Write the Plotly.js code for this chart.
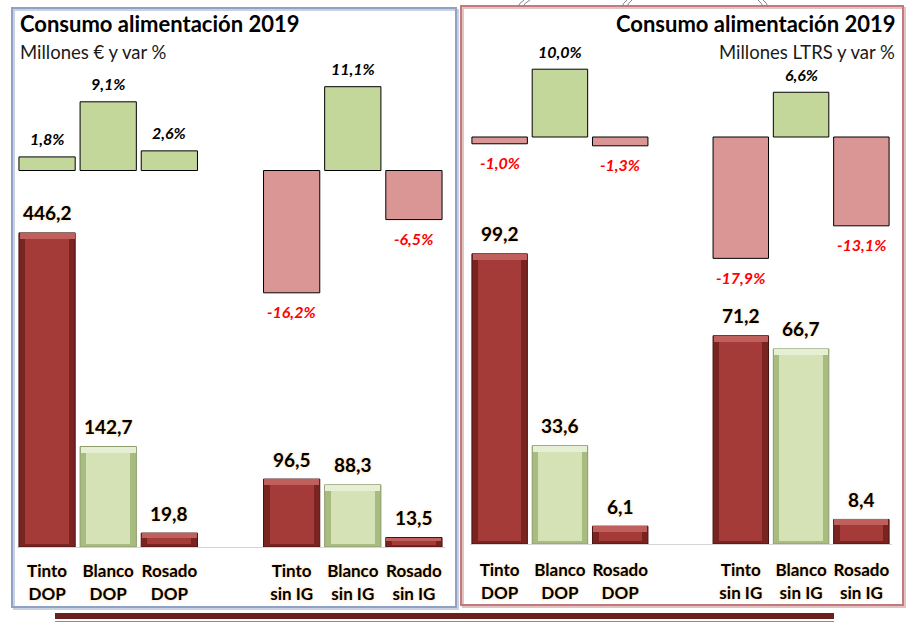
<!DOCTYPE html>
<html>
<head>
<meta charset="utf-8">
<script src="https://cdn.plot.ly/plotly-3.0.1.min.js"></script>
<style>
  html, body { margin: 0; padding: 0; background: #ffffff; }
  #chart { width: 913px; height: 624px; }
</style>
</head>
<body>
<div id="chart"></div>
<script>
// Wine consumption in food retail, 2019: value (left) and volume (right)
const categories = ['Tinto<br>DOP', 'Blanco<br>DOP', 'Rosado<br>DOP', 'Tinto<br>sin IG', 'Blanco<br>sin IG', 'Rosado<br>sin IG'];
const wineType = ['Tinto', 'Blanco', 'Rosado', 'Tinto', 'Blanco', 'Rosado'];

const valorMillonesEur = [446.2, 142.7, 19.8, 96.5, 88.3, 13.5];
const varValorPct = [1.8, 9.1, 2.6, -16.2, 11.1, -6.5];

const volumenMillonesL = [99.2, 33.6, 6.1, 71.2, 66.7, 8.4];
const varVolumenPct = [-1.0, 10.0, -1.3, -17.9, 6.6, -13.1];

const panelTitle = 'Consumo alimentación 2019';
const subtitleValor = 'Millones € y var %';
const subtitleVolumen = 'Millones LTRS y var %';

// ---- page geometry helpers (pixels -> paper) ----
const W = 913, H = 624;
const px = x => x / W;
const py = y => 1 - y / H;

const FONT = 'Lato, "Liberation Sans", Arial, sans-serif';
const GLOW = '0px 0px 3px rgba(255,170,60,0.55)';

// category axis with a blank slot separating DOP and sin IG groups
const SPACER = ' ';
const catOrder = categories.slice(0, 3).concat([SPACER], categories.slice(3));

const fmt = v => v.toFixed(1).replace('.', ',');

// bevelled bar palette
const bevel = {
  Tinto:  { side: '#7a2422', top: '#c0605d', face: '#a53b38', line: '#4a1313' },
  Rosado: { side: '#7a2422', top: '#c0605d', face: '#a53b38', line: '#4a1313' },
  Blanco: { side: '#a9bc80', top: '#e6efd3', face: '#d4e2b5', line: '#8b9b6a' }
};
const varPos = '#c4d79b', varNeg = '#da9694';

// pixels per data unit on each value axis (used to size the bevel)
function panel(values, vars, xa, ya, yaVar, pxPerUnit) {
  const traces = [];
  const side = wineType.map(t => bevel[t].side);
  const topC = wineType.map(t => bevel[t].top);
  const face = wineType.map(t => bevel[t].face);
  const line = wineType.map(t => bevel[t].line);

  const topBand = values.map(v => Math.min(6, v * pxPerUnit * 0.35) / pxPerUnit);
  const botBand = values.map(v => Math.min(3, v * pxPerUnit * 0.2) / pxPerUnit);

  traces.push({
    type: 'bar', x: categories, y: values, xaxis: xa, yaxis: ya,
    width: 0.92, marker: { color: side, line: { color: line, width: 1 } }
  });
  traces.push({
    type: 'bar', x: categories, y: topBand, base: values.map((v, i) => v - topBand[i]),
    xaxis: xa, yaxis: ya, width: 0.9, marker: { color: topC, line: { width: 0 } }
  });
  traces.push({
    type: 'bar', x: categories, y: values.map((v, i) => v - topBand[i] - botBand[i]),
    base: botBand, xaxis: xa, yaxis: ya, width: 0.72,
    marker: { color: face, line: { width: 0 } }
  });
  traces.push({
    type: 'bar', x: categories, y: vars, xaxis: xa, yaxis: yaVar,
    width: 0.92,
    marker: { color: vars.map(v => v >= 0 ? varPos : varNeg), line: { color: '#000000', width: 1 } }
  });
  return traces;
}

const data = []
  .concat(panel(valorMillonesEur, varValorPct, 'x', 'y', 'y2', 0.704))
  .concat(panel(volumenMillonesL, varVolumenPct, 'x2', 'y3', 'y4', 2.925));

// value and variation labels
const annotations = [];
function labels(values, vars, xa, ya, yaVar) {
  values.forEach((v, i) => {
    annotations.push({
      xref: xa, yref: ya, x: categories[i], y: v, text: fmt(v),
      showarrow: false, yanchor: 'middle', yshift: 20,
      font: { family: FONT, size: 19, color: '#000000', weight: 700, shadow: GLOW }
    });
  });
  vars.forEach((v, i) => {
    annotations.push({
      xref: xa, yref: yaVar, x: categories[i], y: v, text: fmt(v) + '%',
      showarrow: false, yanchor: 'middle', yshift: v >= 0 ? 18 : -19,
      font: { family: FONT, size: 16, color: v >= 0 ? '#000000' : '#ff0000', weight: 700, style: 'italic' }
    });
  });
}
labels(valorMillonesEur, varValorPct, 'x', 'y', 'y2');
labels(volumenMillonesL, varVolumenPct, 'x2', 'y3', 'y4');

// panel titles
annotations.push(
  { xref: 'paper', yref: 'paper', x: px(18), y: py(24), xanchor: 'left', yanchor: 'middle', showarrow: false,
    text: panelTitle, font: { family: FONT, size: 22, weight: 700, color: '#000000' } },
  { xref: 'paper', yref: 'paper', x: px(18), y: py(52), xanchor: 'left', yanchor: 'middle', showarrow: false,
    text: subtitleValor, font: { family: FONT, size: 18.5, color: '#1a1a1a' } },
  { xref: 'paper', yref: 'paper', x: px(897), y: py(24), xanchor: 'right', yanchor: 'middle', showarrow: false,
    text: panelTitle, font: { family: FONT, size: 22, weight: 700, color: '#000000' } },
  { xref: 'paper', yref: 'paper', x: px(897), y: py(52), xanchor: 'right', yanchor: 'middle', showarrow: false,
    text: subtitleVolumen, font: { family: FONT, size: 18.5, color: '#1a1a1a' } }
);

const hidden = { showgrid: false, zeroline: false, showticklabels: false, showline: false, ticks: '', fixedrange: true };
const catAxis = {
  type: 'category', categoryorder: 'array', categoryarray: catOrder, range: [-0.5, 6.5],
  showgrid: false, zeroline: false, ticks: '', showline: true, linecolor: '#d4d4d4', linewidth: 1,
  tickfont: { family: FONT, size: 17, weight: 700, color: '#000000', shadow: GLOW },
  ticklabelstandoff: 9, fixedrange: true
};

const layout = {
  width: W, height: H, autosize: false,
  margin: { l: 0, r: 0, t: 0, b: 0 },
  paper_bgcolor: '#ffffff', plot_bgcolor: 'rgba(0,0,0,0)',
  showlegend: false, barmode: 'overlay', bargap: 0,
  font: { family: FONT },
  xaxis: Object.assign({}, catAxis, { domain: [px(16.5), px(444.5)], anchor: 'y' }),
  yaxis: Object.assign({}, hidden, { domain: [py(547), py(200)], range: [0, (547 - 200) / 0.704], anchor: 'x' }),
  yaxis2: Object.assign({}, hidden, { domain: [py(300), py(60)], range: [-(300 - 170.5) / 7.55, (170.5 - 60) / 7.55], anchor: 'x' }),
  xaxis2: Object.assign({}, catAxis, { domain: [px(469.5), px(891.5)], anchor: 'y3', ticklabelstandoff: 11 }),
  yaxis3: Object.assign({}, hidden, { domain: [py(544), py(200)], range: [0, (544 - 200) / 2.925], anchor: 'x2' }),
  yaxis4: Object.assign({}, hidden, { domain: [py(300), py(40)], range: [-(300 - 137) / 6.78, (137 - 40) / 6.78], anchor: 'x2' }),
  annotations: annotations,
  shapes: [
    // left panel frame
    { type: 'rect', xref: 'paper', yref: 'paper', x0: px(14), x1: px(458), y0: py(609), y1: py(10),
      line: { color: '#c9d1e0', width: 2 }, layer: 'below' },
    { type: 'rect', xref: 'paper', yref: 'paper', x0: px(12), x1: px(456), y0: py(607), y1: py(8),
      line: { color: '#8fa2c6', width: 2 }, layer: 'below' },
    // right panel frame
    { type: 'rect', xref: 'paper', yref: 'paper', x0: px(463), x1: px(905), y0: py(607), y1: py(8),
      line: { color: '#e2c2c2', width: 2 }, layer: 'below' },
    { type: 'rect', xref: 'paper', yref: 'paper', x0: px(461), x1: px(903), y0: py(605), y1: py(6),
      line: { color: '#c27a7b', width: 2 }, layer: 'below' },
    // underline bar
    { type: 'rect', xref: 'paper', yref: 'paper', x0: px(55), x1: px(834), y0: py(619), y1: py(613),
      fillcolor: '#6b2020', line: { width: 0 } },
    { type: 'line', xref: 'paper', yref: 'paper', x0: px(55), x1: px(834), y0: py(621.5), y1: py(621.5),
      line: { color: '#b57a7a', width: 1 } },
    // rings peeking over the right panel
    { type: 'path', xref: 'paper', yref: 'paper', path: `M ${px(524)} ${py(0)} Q ${px(519)} ${py(3)} ${px(518)} ${py(7)}`, line: { color: '#888888', width: 1 } },
    { type: 'path', xref: 'paper', yref: 'paper', path: `M ${px(530)} ${py(0)} Q ${px(524)} ${py(3)} ${px(523)} ${py(7)}`, line: { color: '#888888', width: 1 } },
    { type: 'path', xref: 'paper', yref: 'paper', path: `M ${px(627)} ${py(0)} Q ${px(623)} ${py(3)} ${px(622)} ${py(7)}`, line: { color: '#888888', width: 1 } },
    { type: 'path', xref: 'paper', yref: 'paper', path: `M ${px(632)} ${py(0)} Q ${px(628)} ${py(3)} ${px(627)} ${py(7)}`, line: { color: '#888888', width: 1 } },
    { type: 'path', xref: 'paper', yref: 'paper', path: `M ${px(758)} ${py(0)} Q ${px(762)} ${py(3)} ${px(763)} ${py(7)}`, line: { color: '#888888', width: 1 } },
    { type: 'path', xref: 'paper', yref: 'paper', path: `M ${px(763)} ${py(0)} Q ${px(767)} ${py(3)} ${px(768)} ${py(7)}`, line: { color: '#888888', width: 1 } }
  ]
};

Plotly.newPlot('chart', data, layout, { staticPlot: true, displayModeBar: false });
</script>
</body>
</html>
